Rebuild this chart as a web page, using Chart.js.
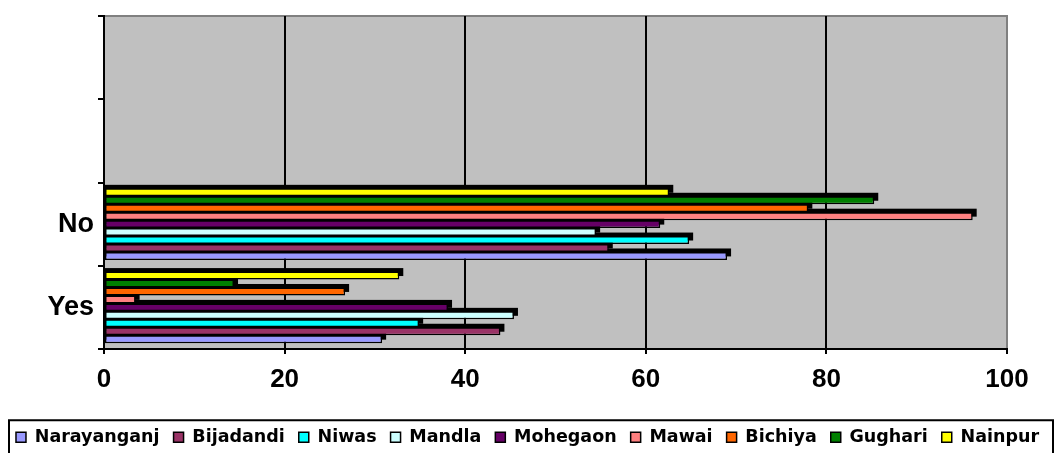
<!DOCTYPE html>
<html>
<head>
<meta charset="utf-8">
<script src="https://cdn.jsdelivr.net/npm/chart.js@4.4.1/dist/chart.umd.min.js"></script>
<style>
  html, body { margin: 0; padding: 0; background: #ffffff; }
  #wrap { width: 1055px; height: 453px; }
</style>
</head>
<body>
<div id="wrap"><canvas id="c" width="1055" height="453"></canvas></div>
<script>
// Answer categories (two empty slots above, as in the original sheet range)
const categories = ['Yes', 'No', '', ''];

// Blocks / districts
const districts = ['Narayanganj', 'Bijadandi', 'Niwas', 'Mandla', 'Mohegaon', 'Mawai', 'Bichiya', 'Gughari', 'Nainpur'];

// Percentage of respondents answering Yes / No
const yesValues = [30.8, 43.9, 34.9, 45.4, 38.1, 3.5, 26.7, 14.4, 32.7];
const noValues  = [69.0, 55.9, 64.8, 54.5, 61.6, 96.2, 78.0, 85.3, 62.6];

const districtColors = ['#9999FF', '#993366', '#00FFFF', '#CCFFFF', '#660066', '#FF8080', '#FF6600', '#008000', '#FFFF00'];

const xTickValues = [0, 20, 40, 60, 80, 100];

const SHADOW_DX = 4;
const SHADOW_DY = 3.5;

// Grey plot wall with a darker top/right edge
const wallPlugin = {
  id: 'wall',
  beforeDraw(chart) {
    const { ctx, chartArea: a } = chart;
    ctx.save();
    ctx.fillStyle = '#C0C0C0';
    ctx.fillRect(a.left, a.top, a.right - a.left, a.bottom - a.top);
    ctx.strokeStyle = '#808080';
    ctx.lineWidth = 2;
    ctx.beginPath();
    ctx.moveTo(a.left, a.top);
    ctx.lineTo(a.right, a.top);
    ctx.lineTo(a.right, a.bottom);
    ctx.stroke();
    ctx.restore();
  }
};

// Black extrusion behind every bar for the 3-D look
const depthPlugin = {
  id: 'depth',
  beforeDatasetsDraw(chart) {
    const ctx = chart.ctx;
    ctx.save();
    ctx.fillStyle = '#000000';
    chart.data.datasets.forEach((ds, di) => {
      const meta = chart.getDatasetMeta(di);
      if (meta.hidden) return;
      meta.data.forEach((el, i) => {
        const v = ds.data[i];
        if (v === null || v === undefined) return;
        const p = el.getProps(['x', 'y', 'base', 'height'], true);
        const left = Math.min(p.base, p.x);
        const right = Math.max(p.base, p.x);
        const top = p.y - p.height / 2;
        ctx.fillRect(left, top - SHADOW_DY, right - left + SHADOW_DX, p.height);
      });
    });
    ctx.restore();
  }
};

// Frame around the legend row
const legendFramePlugin = {
  id: 'legendFrame',
  afterDraw(chart) {
    const lg = chart.legend;
    if (!lg || !lg.legendHitBoxes || !lg.legendHitBoxes.length) return;
    const b = lg.legendHitBoxes[0];
    const midY = b.top + b.height / 2;
    const ctx = chart.ctx;
    ctx.save();
    ctx.strokeStyle = '#000000';
    ctx.lineWidth = 2;
    const left = 9;
    const right = chart.width - 2;
    const top = midY - 17;
    ctx.strokeRect(left, top, right - left, 60);
    ctx.restore();
  }
};

// Bars within a band are stacked top-down by dataset index, so the
// datasets are listed last-to-first and the legend is reversed back.
const datasets = districts.map((name, i) => ({
  label: name,
  data: [yesValues[i], noValues[i], null, null],
  backgroundColor: districtColors[i],
  borderColor: '#000000',
  borderWidth: 1.5,
  borderSkipped: false,
  categoryPercentage: 0.86,
  barPercentage: 1.0
})).reverse();

new Chart(document.getElementById('c'), {
  type: 'bar',
  data: { labels: categories, datasets },
  plugins: [wallPlugin, depthPlugin, legendFramePlugin],
  options: {
    indexAxis: 'y',
    responsive: false,
    devicePixelRatio: 1,
    animation: false,
    layout: { padding: { top: 16, right: 0, left: 0, bottom: -3 } },
    scales: {
      x: {
        type: 'linear',
        min: 0,
        max: 100,
        afterBuildTicks(scale) {
          scale.ticks = xTickValues.map(v => ({ value: v }));
        },
        ticks: {
          color: '#000000',
          padding: 10,
          font: { family: 'Liberation Sans, Arial, sans-serif', size: 26, weight: 'bold' }
        },
        grid: {
          color: c => (c.tick && (c.tick.value === 0 || c.tick.value === 100)) ? 'rgba(0,0,0,0)' : '#000000',
          tickColor: '#000000',
          lineWidth: 2,
          tickLength: 5
        },
        border: { display: true, color: '#000000', width: 2 },
        afterFit(scale) {
          scale.height = 65.5;
          scale.paddingRight = 48;
        }
      },
      y: {
        type: 'category',
        reverse: true,
        offset: true,
        ticks: {
          color: '#000000',
          padding: 4,
          font: { family: 'Liberation Sans, Arial, sans-serif', size: 27, weight: 'bold' }
        },
        grid: {
          drawOnChartArea: false,
          offset: true,
          tickColor: '#000000',
          lineWidth: 2,
          tickLength: 6
        },
        border: { display: true, color: '#000000', width: 2 },
        afterFit(scale) {
          scale.width = 104;
          scale.paddingTop = 0;
          scale.paddingBottom = 0;
        }
      }
    },
    plugins: {
      legend: {
        display: true,
        position: 'bottom',
        reverse: true,
        labels: {
          color: '#000000',
          boxWidth: 10,
          boxHeight: 10,
          padding: 14,
          font: { family: 'DejaVu Sans, sans-serif', size: 17.5, weight: 'bold', lineHeight: 1.0 }
        }
      },
      tooltip: { enabled: false }
    }
  }
});
</script>
</body>
</html>
